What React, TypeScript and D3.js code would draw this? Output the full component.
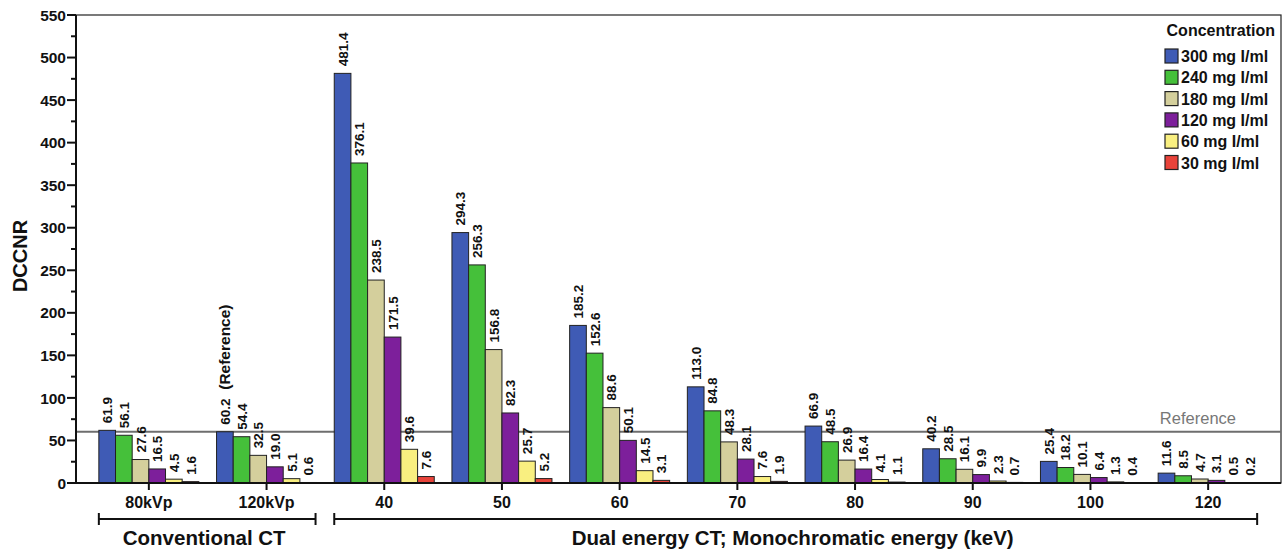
import * as d3 from "d3";

const categories = ["80kVp", "120kVp", "40", "50", "60", "70", "80", "90", "100", "120"];
const seriesNames = ["300 mg I/ml", "240 mg I/ml", "180 mg I/ml", "120 mg I/ml", "60 mg I/ml", "30 mg I/ml"];
const s300 = [61.9, 60.2, 481.4, 294.3, 185.2, 113.0, 66.9, 40.2, 25.4, 11.6];
const s240 = [56.1, 54.4, 376.1, 256.3, 152.6, 84.8, 48.5, 28.5, 18.2, 8.5];
const s180 = [27.6, 32.5, 238.5, 156.8, 88.6, 48.3, 26.9, 16.1, 10.1, 4.7];
const s120 = [16.5, 19.0, 171.5, 82.3, 50.1, 28.1, 16.4, 9.9, 6.4, 3.1];
const s60 = [4.5, 5.1, 39.6, 25.7, 14.5, 7.6, 4.1, 2.3, 1.3, 0.5];
const s30 = [1.6, 0.6, 7.6, 5.2, 3.1, 1.9, 1.1, 0.7, 0.4, 0.2];
const referenceValue = 60.2;
const yTicks = [0, 50, 100, 150, 200, 250, 300, 350, 400, 450, 500, 550];

const colors = ["#3f5bb5", "#45c03a", "#d4cf9c", "#7d1f9b", "#f9ef80", "#e8433a"];
const font = "Arial, 'Liberation Sans', sans-serif";

export default function App() {
  const W = 1287, H = 551;
  const plot = { left: 76, right: 1281, top: 15, bottom: 483 };
  const series = [s300, s240, s180, s120, s60, s30];

  const y = d3.scaleLinear().domain([0, 550]).range([plot.bottom, plot.top]);
  const x = d3.scaleBand<string>().domain(categories).range([90, 1267]);
  const inner = d3.scaleBand<number>().domain(d3.range(6)).range([0, 100]);
  const cx = (c: string) => x(c)! + x.bandwidth() / 2;
  const minorTicks = d3.range(25, 550, 50);

  const brackets = [
    { from: categories[0], to: categories[1], label: "Conventional CT" },
    { from: categories[2], to: categories[9], label: "Dual energy CT; Monochromatic energy (keV)" },
  ];

  return (
    <svg width={W} height={H} style={{ position: "absolute", left: 0, top: 0, background: "#fff" }} fontFamily={font}>
      {/* plot frame */}
      <rect x={plot.left} y={plot.top} width={plot.right - plot.left} height={plot.bottom - plot.top} fill="none" stroke="#222" strokeWidth={1.2} />

      {/* reference line */}
      <line x1={plot.left} x2={plot.right} y1={y(referenceValue)} y2={y(referenceValue)} stroke="#6e6e6e" strokeWidth={2} />
      <text x={1236} y={y(referenceValue) - 8} textAnchor="end" fontSize={16.5} fill="#777">Reference</text>

      {/* bars */}
      {categories.map((c, ci) => (
        <g key={c} transform={`translate(${cx(c) - 50},0)`}>
          {series.map((s, si) => {
            const bx = inner(si)!;
            const bw = inner.bandwidth();
            const top = y(s[ci]);
            return (
              <g key={si}>
                <rect x={bx} y={top} width={bw} height={plot.bottom - top} fill={colors[si]} stroke="#222" strokeWidth={1} />
                <text transform={`translate(${bx + bw / 2 + 5},${top - 7}) rotate(-90)`} fontSize={13.5} fontWeight="bold" fill="#111">
                  {s[ci].toFixed(1)}
                </text>
              </g>
            );
          })}
        </g>
      ))}
      <text transform={`translate(${cx(categories[1]) - 50 + inner.bandwidth() / 2 + 5},${y(s300[1]) - 42}) rotate(-90)`} fontSize={15.5} fontWeight="bold" fill="#111">
        (Reference)
      </text>

      {/* y axis */}
      <line x1={plot.left} x2={plot.left} y1={plot.top} y2={plot.bottom} stroke="#111" strokeWidth={2} />
      {yTicks.map((t) => (
        <g key={t} transform={`translate(0,${y(t)})`}>
          <line x1={plot.left - 9} x2={plot.left} stroke="#111" strokeWidth={2} />
          <text x={plot.left - 10} dy="0.36em" textAnchor="end" fontSize={15.5} fontWeight="bold" fill="#111">{t}</text>
        </g>
      ))}
      {minorTicks.map((t) => (
        <line key={t} x1={plot.left - 5} x2={plot.left} y1={y(t)} y2={y(t)} stroke="#111" strokeWidth={2} />
      ))}
      <text transform={`translate(27,${(plot.top + plot.bottom) / 2 + 7}) rotate(-90)`} textAnchor="middle" fontSize={20} fontWeight="bold" fill="#111">DCCNR</text>

      {/* x axis */}
      <line x1={plot.left} x2={plot.right} y1={plot.bottom} y2={plot.bottom} stroke="#111" strokeWidth={2} />
      {categories.map((c) => (
        <g key={c} transform={`translate(${cx(c)},${plot.bottom})`}>
          <line y1={0} y2={7} stroke="#111" strokeWidth={2} />
          <text y={25} textAnchor="middle" fontSize={16} fontWeight="bold" fill="#111">{c}</text>
        </g>
      ))}

      {/* group brackets */}
      {brackets.map((b) => {
        const x1 = cx(b.from) - 50;
        const x2 = cx(b.to) + 49;
        const by = 519;
        return (
          <g key={b.label}>
            <line x1={x1} x2={x2} y1={by} y2={by} stroke="#111" strokeWidth={2} />
            <line x1={x1} x2={x1} y1={by - 6} y2={by + 6} stroke="#111" strokeWidth={2} />
            <line x1={x2} x2={x2} y1={by - 6} y2={by + 6} stroke="#111" strokeWidth={2} />
            <text x={(x1 + x2) / 2 - 3} y={545} textAnchor="middle" fontSize={20.5} fontWeight="bold" fill="#111">{b.label}</text>
          </g>
        );
      })}

      {/* legend */}
      <g transform="translate(1164,36)">
        <text x={111} y={0} textAnchor="end" fontSize={16} fontWeight="bold" fill="#111">Concentration</text>
        {seriesNames.map((n, i) => (
          <g key={n} transform={`translate(0,${13 + i * 21.3})`}>
            <rect x={1} y={0} width={13} height={14} fill={colors[i]} stroke="#222" strokeWidth={1.2} />
            <text x={17} y={13} fontSize={16} fontWeight="bold" fill="#111">{n}</text>
          </g>
        ))}
      </g>
    </svg>
  );
}
